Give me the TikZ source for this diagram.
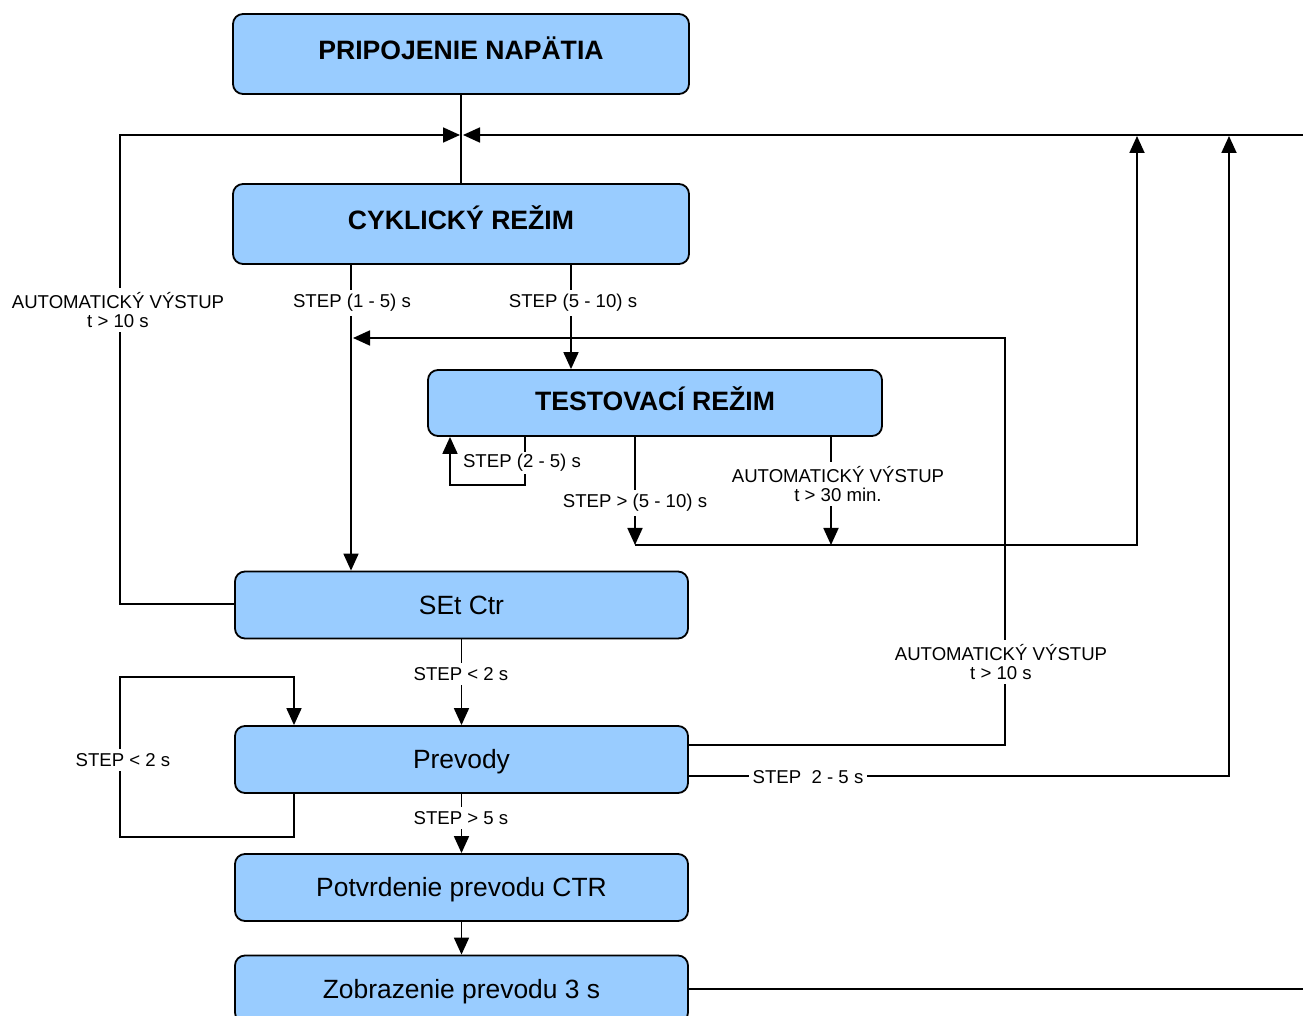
\documentclass[tikz,border=0pt]{standalone}
\usepackage{fontspec}
\setmainfont{Liberation Sans}
\usetikzlibrary{arrows.meta}
\definecolor{boxblue}{HTML}{99CCFF}
\begin{document}
\begin{tikzpicture}[x=0.5pt,y=-0.5pt,
  box/.style={draw=black, line width=0.9pt, fill=boxblue, rounded corners=5pt,
    minimum width=226.5pt, minimum height=33.5pt, inner sep=0pt,
    text height=9.45pt, text depth=0pt,
    font=\fontsize{13.2}{15}\selectfont},
  bigbox/.style={box, minimum width=228pt, minimum height=40pt,
    text height=7.5pt, text depth=2pt,
    font=\fontsize{13.3}{15}\selectfont\bfseries},
  conn/.style={line width=0.9pt},
  arr/.style={conn, -{Triangle[length=8.5pt,width=7.5pt]}},
  lbl/.style={fill=white, inner sep=2pt, align=center,
    font=\fontsize{9.3}{9.6}\selectfont}
]
\useasboundingbox (0,0) rectangle (1303,1016);
\clip (0,0) rectangle (1303,1016);

% boxes
\node[bigbox] (pn) at (461,54) {PRIPOJENIE NAPÄTIA};
\node[bigbox] (cy) at (461,224) {CYKLICKÝ REŽIM};
\node[bigbox, minimum width=227pt, minimum height=33pt, text height=8.5pt, text depth=0.5pt] (te) at (655,403) {TESTOVACÍ REŽIM};
\node[box] (se) at (461.5,605) {SEt Ctr};
\node[box] (pr) at (461.5,759.5) {Prevody};
\node[box] (po) at (461.5,887.5) {Potvrdenie prevodu CTR};
\node[box] (zo) at (461.5,989) {Zobrazenie prevodu 3 s};

% coordinates
\coordinate (jl) at (460,135);
\coordinate (jr) at (463,135);
\coordinate (re) at (1303,135);
\coordinate (lx) at (120,604);
\coordinate (lt) at (120,135);
\coordinate (c1) at (351,0);
\coordinate (c2) at (571,0);
\coordinate (a1) at (1005,745);
\coordinate (a2) at (1005,338);
\coordinate (a3) at (353,338);
\coordinate (s1) at (525,485);
\coordinate (s2) at (450,485);
\coordinate (h1) at (635,545);
\coordinate (h3) at (831,545);
\coordinate (h2) at (1137,545);
\coordinate (t1) at (1137,136);
\coordinate (b1) at (1229,776);
\coordinate (b2) at (1229,136);
\coordinate (z1) at (1303,989);
\coordinate (p1) at (294,837);
\coordinate (p2) at (120,837);
\coordinate (p3) at (120,677);
\coordinate (p4) at (294,677);

% connectors
\draw[conn] (pn.south) -- (cy.north);
\draw[arr] (se.west |- lx) -- (lx) -- (lt) -- (jl);
\draw[arr] (re) -- (jr);
\draw[arr] (cy.south -| c1) -- (se.north -| c1);
\draw[arr] (cy.south -| c2) -- (te.north -| c2);
\draw[arr] (pr.east |- a1) -- (a1) -- (a2) -- (a3);
\draw[arr] (te.south -| s1) -- (s1) -- (s2) -- (te.south -| s2);
\draw[arr] (te.south -| h1) -- (h1);
\draw[arr] (te.south -| h3) -- (h3);
\draw[arr] (h1) -- (h2) -- (t1);
\draw[arr] (pr.east |- b1) -- (b1) -- (b2);
\draw[arr] (se.south) -- (pr.north);
\draw[arr] (pr.south -| p1) -- (p1) -- (p2) -- (p3) -- (p4) -- (pr.north -| p4);
\draw[arr] (pr.south) -- (po.north);
\draw[arr] (po.south) -- (zo.north);
\draw[conn] (zo.east) -- (z1);

% labels
\node[lbl] (l1) at (118,310) {AUTOMATICKÝ VÝSTUP\\t > 10 s};
\node[lbl] (l2) at (352,303) {STEP (1 - 5) s};
\node[lbl] (l3) at (573,303) {STEP (5 - 10) s};
\node[lbl, inner sep=1pt] (l4) at (522,463) {STEP (2 - 5) s};
\node[lbl] (l5) at (635,503) {STEP > (5 - 10) s};
\node[lbl] (l6) at (838,484) {AUTOMATICKÝ VÝSTUP\\t > 30 min.};
\node[lbl] (l7) at (461,674) {STEP < 2 s};
\node[lbl] (l8) at (1001,662) {AUTOMATICKÝ VÝSTUP\\t > 10 s};
\node[lbl] (l9) at (123,760) {STEP < 2 s};
\node[lbl] (l10) at (808,777) {STEP\ \ 2 - 5 s};
\node[lbl] (l11) at (461,818) {STEP > 5 s};
\end{tikzpicture}
\end{document}
